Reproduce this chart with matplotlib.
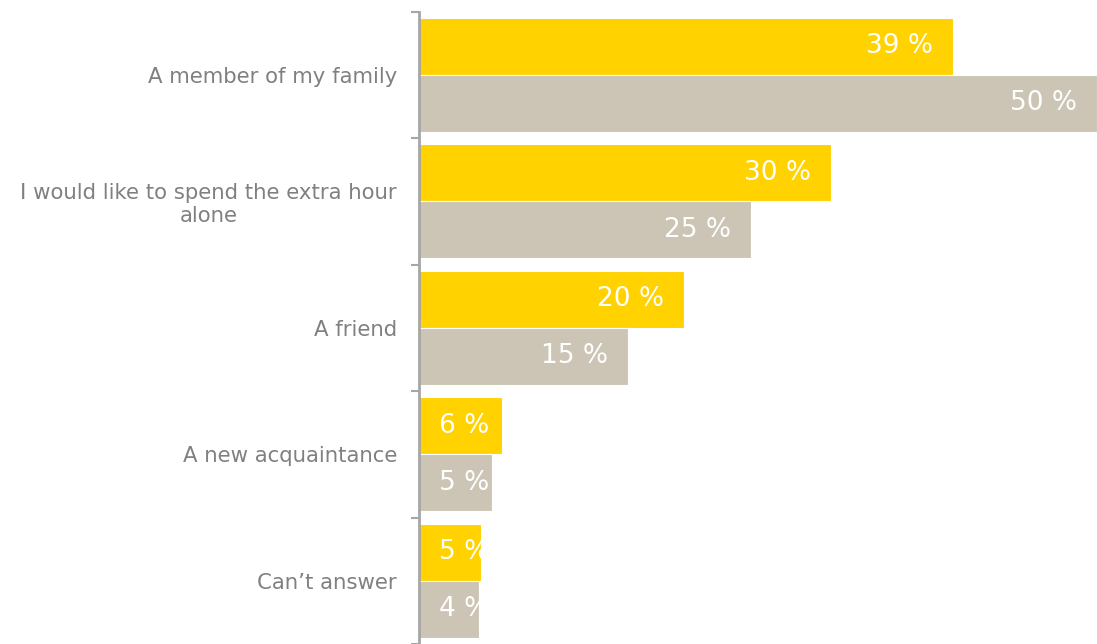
import numpy as np
import matplotlib.pyplot as plt

# data (bar lengths estimated, labels rounded)
categories = ['A member of my family',
              'I would like to spend the extra hour\nalone',
              'A friend',
              'A new acquaintance',
              "Can\u2019t answer"]
series_a = [39.4, 30.4, 19.55, 6.1, 4.6]   # yellow
series_b = [50.0, 24.51, 15.4, 5.4, 4.4]   # beige

yellow = '#FFD200'
beige = '#CCC5B5'
grey = '#808080'

fig = plt.figure(figsize=(10.97, 6.44), dpi=100)
ax = fig.add_axes([419 / 1097, 0, 1 - 419 / 1097, 632.5 / 644])

n = len(categories)
y = np.arange(n)
h = 0.45
ax.barh(y - h / 2, series_a, height=h, color=yellow, edgecolor='white', linewidth=0.8)
ax.barh(y + h / 2, series_b, height=h, color=beige, edgecolor='white', linewidth=0.8)

ax.set_xlim(0, 50)
ax.set_ylim(n - 0.5, -0.5)

# value labels inside bars
px = 50 / (1097 - 419)  # data units per pixel
for vals, off in [(series_a, -h / 2), (series_b, h / 2)]:
    for i, v in enumerate(vals):
        txt = f'{v:.0f} %'
        if v > 12:
            ax.text(v - 20 * px, i + off, txt, ha='right', va='center',
                    color='white', fontsize=19, clip_on=True)
        else:
            ax.text(20 * px, i + off, txt, ha='left', va='center',
                    color='white', fontsize=19, clip_on=True)

# category labels
ax.set_yticks(y)
ax.set_yticklabels(categories, fontsize=15.3, color=grey, multialignment='center')
ax.tick_params(axis='y', which='major', length=0, pad=15.8)
ax.set_yticks(np.arange(n + 1) - 0.5, minor=True)
ax.tick_params(axis='y', which='minor', length=6, width=1.5, color='#A6A6A6')
ax.set_xticks([])

for s in ['top', 'right', 'bottom']:
    ax.spines[s].set_visible(False)
ax.spines['left'].set_color('#A6A6A6')
ax.spines['left'].set_linewidth(2)
ax.set_clip_on(False)

fig.savefig('out.png', dpi=100)
